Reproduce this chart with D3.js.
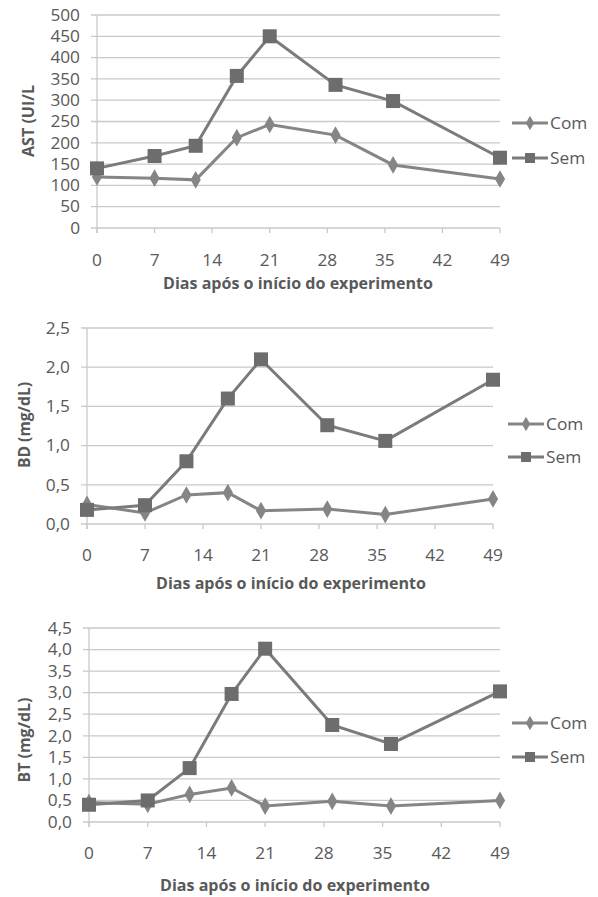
<!DOCTYPE html>
<html><head><meta charset="utf-8">
<script src="https://cdn.jsdelivr.net/npm/d3@7"></script>
<style>body{margin:0;background:#fff}svg{display:block}text{font-family:"Open Sans",Lato,sans-serif}</style>
</head><body>
<svg id="c" width="598" height="897"></svg>
<script>
const days = [0, 7, 12, 17, 21, 29, 36, 49];
const xTicks = [0, 7, 14, 21, 28, 35, 42, 49];
const seriesNames = ["Com", "Sem"];
const astCom = [120, 117, 113, 212, 243, 218, 148, 115];
const astSem = [140, 169, 193, 357, 450, 336, 298, 165];
const astTicks = [0, 50, 100, 150, 200, 250, 300, 350, 400, 450, 500];
const bdCom = [0.25, 0.14, 0.37, 0.40, 0.17, 0.19, 0.12, 0.32];
const bdSem = [0.18, 0.24, 0.80, 1.60, 2.10, 1.26, 1.06, 1.84];
const bdTicks = [0, 0.5, 1.0, 1.5, 2.0, 2.5];
const btCom = [0.45, 0.41, 0.64, 0.79, 0.37, 0.48, 0.37, 0.50];
const btSem = [0.40, 0.50, 1.25, 2.97, 4.02, 2.25, 1.81, 3.03];
const btTicks = [0, 0.5, 1.0, 1.5, 2.0, 2.5, 3.0, 3.5, 4.0, 4.5];
const yTitles = ["AST (UI/L", "BD (mg/dL)", "BT (mg/dL)"];
const xTitle = "Dias após o início do experimento";

const panels = [
  {com: astCom, sem: astSem, ticks: astTicks, title: yTitles[0], fmt: d => String(d), ytl: 72,
   L: 97, R: 500, T: 15, B: 228, ytx: 28, yty: 121, lgx: 512, lg1: 123, lg2: 158, xly: 260, xtx: 298, xty: 283},
  {com: bdCom, sem: bdSem, ticks: bdTicks, title: yTitles[1], fmt: d => d.toFixed(1).replace(".", ","), ytl: 86,
   L: 87, R: 493, T: 328, B: 524, ytx: 24, yty: 425, lgx: 508, lg1: 424, lg2: 457, xly: 555, xtx: 291, xty: 583},
  {com: btCom, sem: btSem, ticks: btTicks, title: yTitles[2], fmt: d => d.toFixed(1).replace(".", ","), ytl: 85,
   L: 89, R: 500, T: 628, B: 822, ytx: 24, yty: 740, lgx: 512, lg1: 723, lg2: 757, xly: 853, xtx: 295, xty: 885}
];

const svg = d3.select("#c");
const txt = "#595959", grid = "#c9c9c9", lineC = "#7b7b7b", sqC = "#6d6d6d", diaC = "#858585";

panels.forEach(p => {
  const x = d3.scaleLinear().domain([0, 49]).range([p.L, p.R]);
  const y = d3.scaleLinear().domain([0, p.ticks[p.ticks.length - 1]]).range([p.B, p.T]);
  const g = svg.append("g");
  g.selectAll(".gl").data(p.ticks).join("line")
    .attr("x1", p.L - 6).attr("x2", p.R).attr("y1", d => y(d)).attr("y2", d => y(d))
    .attr("stroke", grid).attr("stroke-width", 1.3);
  g.append("line").attr("x1", p.L).attr("x2", p.L).attr("y1", p.T).attr("y2", p.B + 5)
    .attr("stroke", grid).attr("stroke-width", 1.3);
  g.selectAll(".xt").data(xTicks).join("line")
    .attr("x1", d => x(d)).attr("x2", d => x(d)).attr("y1", p.B).attr("y2", p.B + 5)
    .attr("stroke", grid).attr("stroke-width", 1.3);
  g.selectAll(".yl").data(p.ticks).join("text")
    .attr("transform", d => `translate(${p.L - 17},${y(d)}) scale(1.08,1)`).attr("dy", "0.36em")
    .attr("text-anchor", "end").attr("font-size", 16).attr("fill", txt).text(p.fmt);
  g.selectAll(".xl").data(xTicks).join("text")
    .attr("transform", d => `translate(${x(d)},${p.xly}) scale(1.08,1)`).attr("dy", "0.36em")
    .attr("text-anchor", "middle").attr("font-size", 16).attr("fill", txt).text(d => d);
  g.append("text").attr("transform", `translate(${p.ytx},${p.yty}) rotate(-90)`)
    .attr("text-anchor", "middle").attr("dy", "0.36em").attr("font-size", 15.5).attr("font-weight", "bold")
    .attr("textLength", p.ytl).attr("lengthAdjust", "spacingAndGlyphs")
    .attr("fill", txt).text(p.title);
  g.append("text").attr("x", p.xtx).attr("y", p.xty).attr("dy", "0.36em")
    .attr("text-anchor", "middle").attr("font-size", 15.5).attr("font-weight", "bold")
    .attr("textLength", 270).attr("lengthAdjust", "spacingAndGlyphs")
    .attr("fill", txt).text(xTitle);

  const line = d3.line().x((d, i) => x(days[i])).y(d => y(d));
  g.append("path").attr("d", line(p.com)).attr("fill", "none").attr("stroke", diaC).attr("stroke-width", 3);
  g.selectAll(".dm").data(p.com).join("path")
    .attr("transform", (d, i) => `translate(${x(days[i])},${y(d)})`)
    .attr("d", d3.symbol().type(d3.symbolDiamond).size(90)).attr("fill", diaC);
  g.append("path").attr("d", line(p.sem)).attr("fill", "none").attr("stroke", lineC).attr("stroke-width", 3);
  g.selectAll(".sq").data(p.sem).join("rect")
    .attr("x", (d, i) => x(days[i]) - 7).attr("y", d => y(d) - 7).attr("width", 14).attr("height", 14)
    .attr("fill", sqC);

  const lg = [[p.lg1, seriesNames[0], diaC], [p.lg2, seriesNames[1], lineC]];
  lg.forEach(([ly, name, col], k) => {
    g.append("line").attr("x1", p.lgx).attr("x2", p.lgx + 36).attr("y1", ly).attr("y2", ly)
      .attr("stroke", col).attr("stroke-width", 3);
    if (k === 0) {
      g.append("path").attr("transform", `translate(${p.lgx + 18},${ly})`)
        .attr("d", d3.symbol().type(d3.symbolDiamond).size(60)).attr("fill", diaC);
    } else {
      g.append("rect").attr("x", p.lgx + 13).attr("y", ly - 5).attr("width", 10).attr("height", 10).attr("fill", sqC);
    }
    g.append("text").attr("transform", `translate(${p.lgx + 38},${ly}) scale(1.05,1)`).attr("dy", "0.36em")
      .attr("font-size", 16.5).attr("fill", txt).text(name);
  });
});
</script>
</body></html>
